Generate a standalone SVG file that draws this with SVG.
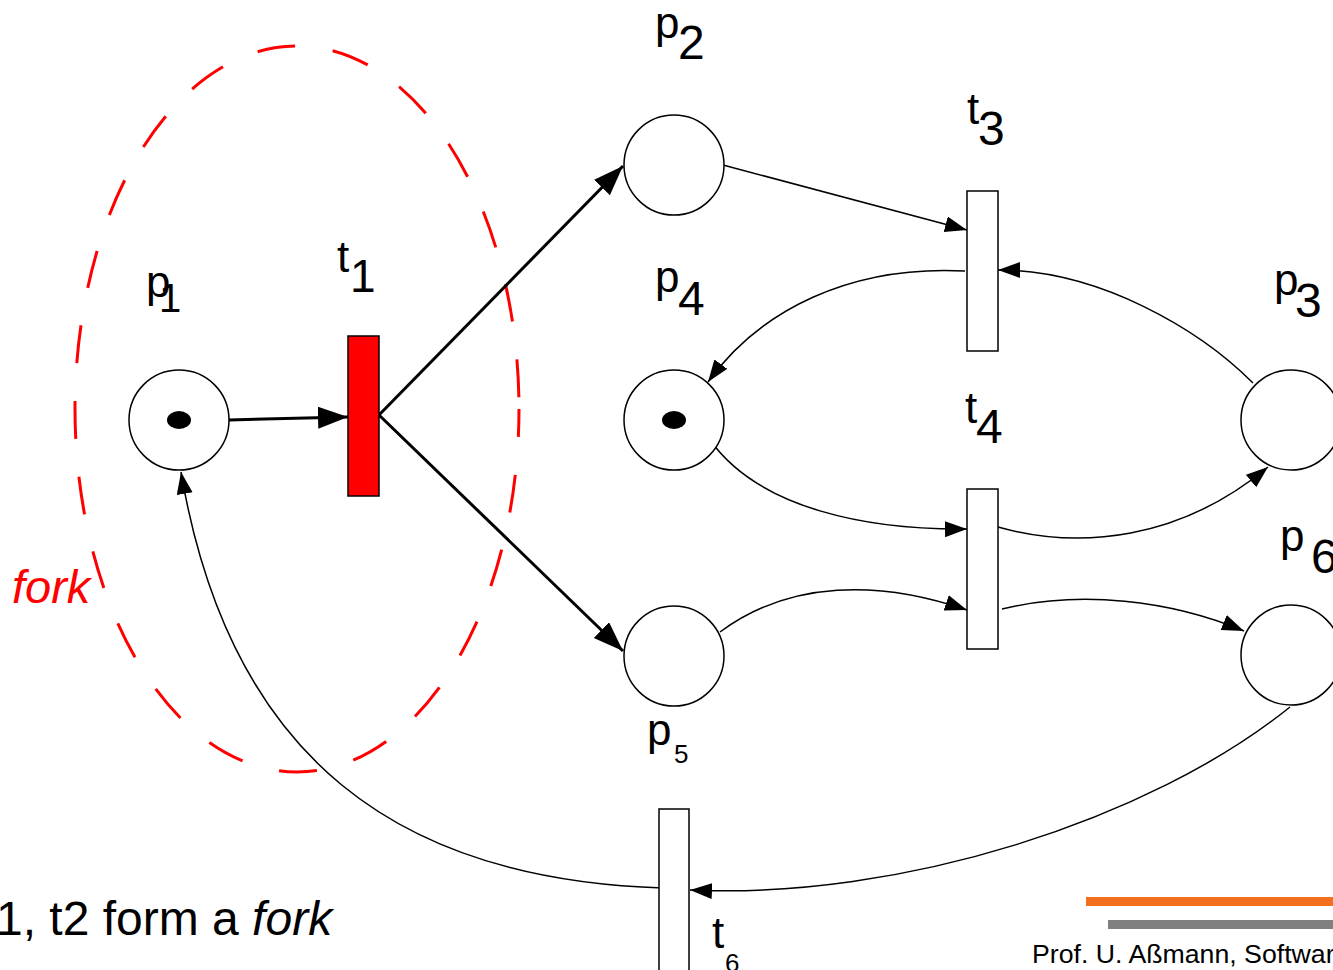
<svg xmlns="http://www.w3.org/2000/svg" width="1333" height="970" viewBox="0 0 1333 970">
<style>
.place{fill:#fff;stroke:#000;stroke-width:1.5}
.trans{fill:#fff;stroke:#000;stroke-width:1.5}
.tok{fill:#000}
.lbl{font-family:"Liberation Sans",Arial,sans-serif;font-size:44px;fill:#000}
.thick{fill:none;stroke:#000;stroke-width:3;marker-end:url(#ah)}
.thin{fill:none;stroke:#000;stroke-width:1.5;marker-end:url(#as)}
</style>
<defs>
<marker id="ah" markerUnits="userSpaceOnUse" markerWidth="32" markerHeight="24" refX="30" refY="11" orient="auto"><path d="M0,0 L30,11 L0,22 z" fill="#000"/></marker>
<marker id="as" markerUnits="userSpaceOnUse" markerWidth="24" markerHeight="18" refX="22" refY="8" orient="auto"><path d="M0,0 L22,8 L0,16 z" fill="#000"/></marker>
</defs>
<rect width="1333" height="970" fill="#fff"/>
<g id="fork-region">
<ellipse cx="297" cy="409" rx="222" ry="363" fill="none" stroke="#f00" stroke-width="3" stroke-dasharray="38,38" stroke-dashoffset="10"/>
<text x="12" y="603" style="font-family:'Liberation Sans',Arial,sans-serif;font-size:47px;font-style:italic;fill:#f00">fork</text>
</g>
<g id="connectors">
<path class="thick" d="M229,420 L348,417"/>
<path class="thick" d="M379,415 L623,166"/>
<path class="thick" d="M379,415 L623,651"/>
<path class="thin" d="M723,165 L967,230"/>
<path class="thin" d="M1253,383 C1200,330 1100,270 998,270"/>
<path class="thin" d="M965,271 C850,265 760,310 708,382"/>
<path class="thin" d="M710,440 C760,510 870,530 967,529"/>
<path class="thin" d="M998,527 C1080,550 1180,540 1268,467"/>
<path class="thin" d="M720,632 C790,580 880,580 967,610"/>
<path class="thin" d="M1002,609 C1080,590 1170,600 1244,631"/>
<path class="thin" d="M1290,707 C1150,820 900,900 690,890"/>
<path class="thin" d="M663,888 C400,880 230,760 181,472"/>
</g>
<g id="p1"><circle class="place" cx="179" cy="420" r="50"/><ellipse class="tok" cx="179" cy="420" rx="12" ry="9"/>
<text class="lbl" x="146" y="297">p<tspan x="159" y="312" style="font-size:40px">1</tspan></text></g>
<g id="t1"><rect x="348" y="336" width="31" height="160" fill="#f00" stroke="#000" stroke-width="1.5"/>
<text class="lbl" x="337" y="272">t<tspan x="350" y="292" style="font-size:46px">1</tspan></text></g>
<g id="p2"><circle class="place" cx="674" cy="165" r="50"/>
<text class="lbl" x="655" y="38">p<tspan x="678" y="59" style="font-size:48px">2</tspan></text></g>
<g id="t3"><rect class="trans" x="967" y="191" width="31" height="160"/>
<text class="lbl" x="967" y="124">t<tspan x="978" y="145" style="font-size:48px">3</tspan></text></g>
<g id="p4"><circle class="place" cx="674" cy="420" r="50"/><ellipse class="tok" cx="674" cy="420" rx="12" ry="9"/>
<text class="lbl" x="655" y="292">p<tspan x="678" y="315" style="font-size:48px">4</tspan></text></g>
<g id="t4"><rect class="trans" x="967" y="489" width="31" height="160"/>
<text class="lbl" x="965" y="423">t<tspan x="976" y="443" style="font-size:48px">4</tspan></text></g>
<g id="p3"><circle class="place" cx="1291" cy="420" r="50"/>
<text class="lbl" x="1274" y="295">p<tspan x="1295" y="317" style="font-size:48px">3</tspan></text></g>
<g id="p6"><circle class="place" cx="1291" cy="655" r="50"/>
<text class="lbl" x="1280" y="551">p<tspan x="1311" y="573" style="font-size:48px">6</tspan></text></g>
<g id="p5"><circle class="place" cx="674" cy="656" r="50"/>
<text class="lbl" x="647" y="745">p<tspan x="674" y="763" style="font-size:26px">5</tspan></text></g>
<g id="t6"><rect class="trans" x="659" y="809" width="30" height="175"/>
<text class="lbl" x="712" y="948">t<tspan x="725" y="972" style="font-size:26px">6</tspan></text></g>
<g id="caption">
<text class="lbl" x="-4" y="935" style="font-size:48px">1, t2 form a <tspan style="font-style:italic">fork</tspan></text>
</g>
<g id="footer">
<rect x="1086" y="897" width="247" height="9" fill="#f26f1e"/>
<rect x="1108" y="920" width="225" height="9" fill="#808080"/>
<text x="1032" y="963" style="font-family:'Liberation Sans',Arial,sans-serif;font-size:26.7px;fill:#000">Prof. U. Aßmann, Softwar</text>
</g>
</svg>
